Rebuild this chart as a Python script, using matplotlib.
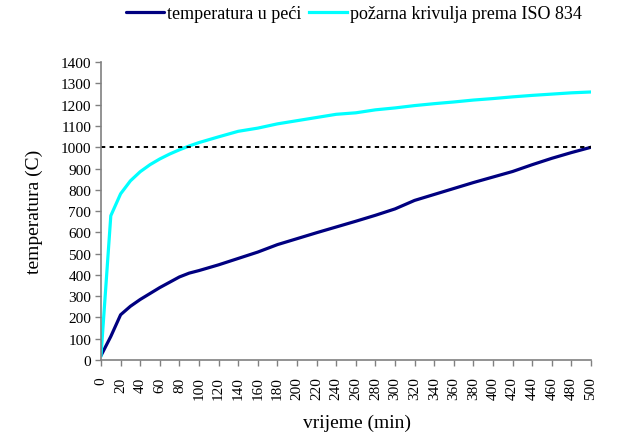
import numpy as np
import pandas as pd
import matplotlib
matplotlib.use('Agg')
import matplotlib.pyplot as plt

# vrijeme (min)
time = [0, 10, 20, 30, 40, 50, 60, 70, 80, 90, 100, 120, 140, 160, 180, 200,
        220, 240, 260, 280, 300, 320, 340, 360, 380, 400, 420, 440, 460, 480, 500]

# temperatura u peci (C)
furnace = [20, 110, 212, 252, 284, 312, 340, 365, 390, 408, 420, 447, 477, 507, 542, 570,
           598, 625, 652, 680, 710, 750, 778, 806, 834, 860, 886, 918, 948, 975, 1000]

# pozarna krivulja prema ISO 834 (C)
iso834 = [20, 678, 781, 842, 885, 918, 945, 968, 988, 1006, 1022, 1049, 1075, 1090, 1110, 1125,
          1140, 1155, 1162, 1176, 1185, 1196, 1205, 1213, 1222, 1229, 1237, 1244, 1250, 1256, 1260]

limit_temp = 1000

plt.rcParams['font.family'] = ['Liberation Serif', 'DejaVu Serif']

fig = plt.figure(figsize=(6.25, 4.39), dpi=100)
ax = fig.add_axes([0.1616, 0.178, 0.784, 0.678])

ax.plot(time, furnace, color='#000080', lw=2.3, label='temperatura u peći', solid_capstyle='round')
ax.plot(time, iso834, color='#00FFFF', lw=2.3, label='požarna krivulja prema ISO 834')
ax.plot([time[0], time[-1]], [limit_temp, limit_temp], color='black', lw=1.4,
        linestyle=(0, (2.2, 2.2)))

ax.set_xlim(0, 500)
ax.set_ylim(0, 1400)
ax.set_xticks(np.arange(0, 501, 20))
ax.set_yticks(np.arange(0, 1401, 100))
ax.tick_params(axis='x', labelrotation=90, labelsize=11, length=4, width=1, color='#808080', pad=8)
ax.tick_params(axis='y', labelsize=11, length=4, width=1, color='#808080', pad=3)

for s in ['top', 'right']:
    ax.spines[s].set_visible(False)
for s in ['left', 'bottom']:
    ax.spines[s].set_color('#808080')
    ax.spines[s].set_linewidth(1.2)

ax.set_xlabel('vrijeme (min)', fontsize=14, labelpad=10)
ax.xaxis.label.set_x(0.522)
ax.set_ylabel('temperatura (C)', fontsize=14, labelpad=13)

fig.legend(loc='center', bbox_to_anchor=(0.566, 0.966), ncol=2, frameon=False,
           fontsize=13, handlelength=2.1, columnspacing=0.45, handletextpad=0.15)

fig.savefig('out.png', dpi=100)
